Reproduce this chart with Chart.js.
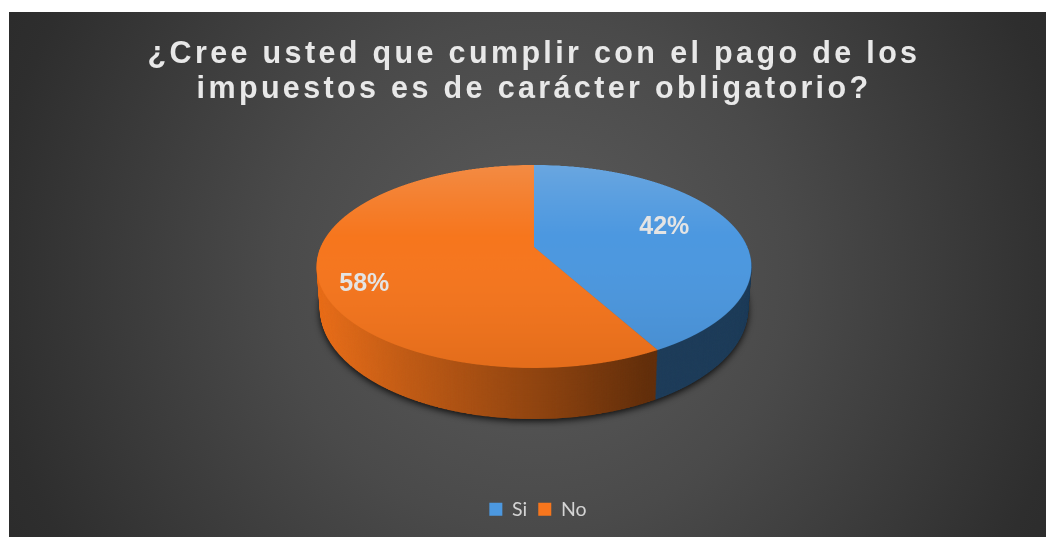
<!DOCTYPE html>
<html>
<head>
<meta charset="utf-8">
<script src="https://cdn.jsdelivr.net/npm/chart.js@4/dist/chart.umd.min.js"></script>
<style>
    html, body { margin: 0; padding: 0; background: #fff; overflow: hidden; }
    #frame { position: absolute; left: 9px; top: 12px; width: 1037px; height: 525px; overflow: hidden; }
    #pie { display: block; background: radial-gradient(circle 640px at 50% 50%, #5c5c5c 0%, #4a4a4a 40%, #2e2e2e 85%, #292929 100%); }
</style>
</head>
<body>
<div id="frame"><canvas id="pie" width="1050" height="525"></canvas></div>
<script>
const categories = ['Si', 'No'];
const shares = [42, 58];
const sliceColors = ['#4c98e0', '#f7761d'];
const titleLines = ['¿Cree usted que cumplir con el pago de los', 'impuestos es de carácter obligatorio?'];
// where the percent text sits along each slice, fraction of radius + small pixel shift
const labelRadius = [0.65, 0.79];
const labelShiftX = [0, 0];
const labelShiftY = [-5, 17];

// tilted disc: a projective map of the flat pie (Excel style 3D look)
const APEX_X = 525, APEX_Y = 235;
const PERSP = -0.192, SCALE_X = 213.4, SCALE_Y = 97.75;
const TOP_Y = 153, BOTTOM_Y = 356;
const RIM_MID_Y = 254;
const SS = 2;       // supersampling of the warped layers

function makeCanvas(w, h) {
    const c = document.createElement('canvas');
    c.width = w;
    c.height = h;
    return c;
}

function project(u, v) {
    const d = 1 + PERSP * v;
    return { x: APEX_X + SCALE_X * u / d, y: APEX_Y + SCALE_Y * v / d };
}

// copy the flat disc row by row into the tilted position
function warp(flat, w, h) {
    const out = makeCanvas(w * SS, h * SS);
    const o = out.getContext('2d');
    const R = flat.width / 2;
    for (let row = TOP_Y * SS; row <= BOTTOM_Y * SS; row++) {
        const vAt = (y) => {
            const t = (y - APEX_Y) / SCALE_Y;
            return t / (1 - PERSP * t);
        };
        const v0 = vAt(row / SS), v1 = vAt((row + 1) / SS);
        const half = SCALE_X / (1 + PERSP * (v0 + v1) / 2) * SS;
        o.drawImage(flat, 0, R + v0 * R, flat.width, Math.max((v1 - v0) * R, 0.5),
            APEX_X * SS - half, row, half * 2, 1);
    }
    return out;
}

const tiltedPie = {
    id: 'tiltedPie',
    afterLayout(chart) {
        // legend sits a little right of centre in the original
        chart.legend.left += 4;
        chart.legend.right += 4;
    },
    beforeDraw(chart) {
        // only the title is letter spaced
        const block = chart.titleBlock;
        if (!block._spaced) {
            const draw = block.draw;
            block.draw = function () {
                chart.ctx.save();
                chart.ctx.letterSpacing = '3.35px';
                draw.call(this);
                chart.ctx.restore();
            };
            block._spaced = true;
        }
    },
    beforeDatasetsDraw(chart) {
        const arcs = chart.getDatasetMeta(0).data;
        const R = arcs[0].outerRadius;
        const S = 1000 / (2 * R);
        const w = chart.width, h = chart.height;

        const flat = makeCanvas(1000, 1000);
        const f = flat.getContext('2d');
        f.setTransform(S, 0, 0, S, -(arcs[0].x - R) * S, -(arcs[0].y - R) * S);
        arcs.forEach(a => a.draw(f));
        f.setTransform(1, 0, 0, 1, 0, 0);

        // side wall
        const wall = warp(flat, w, h);
        const wc = wall.getContext('2d');
        const shade = wc.createLinearGradient(308 * SS, 0, 750 * SS, 0);
        shade.addColorStop(0, 'rgba(0,0,0,0.06)');
        shade.addColorStop(0.2, 'rgba(0,0,0,0.22)');
        shade.addColorStop(0.5, 'rgba(0,0,0,0.42)');
        shade.addColorStop(0.75, 'rgba(0,0,0,0.6)');
        shade.addColorStop(1, 'rgba(0,0,0,0.6)');
        wc.globalCompositeOperation = 'source-atop';
        wc.fillStyle = shade;
        wc.fillRect(0, 0, wall.width, wall.height);

        // top face, lighter to the back
        const light = f.createLinearGradient(0, 0, 0, 1000);
        light.addColorStop(0, 'rgba(225,225,225,0.2)');
        light.addColorStop(0.45, 'rgba(225,225,225,0)');
        light.addColorStop(1, 'rgba(0,0,0,0.08)');
        f.globalCompositeOperation = 'source-atop';
        f.fillStyle = light;
        f.fillRect(0, 0, 1000, 1000);
        const top = warp(flat, w, h);

        const ctx = chart.ctx;
        ctx.save();
        const steps = 60;
        for (let i = steps; i >= 1; i--) {
            const t = i / steps;
            const sx = 1 - 0.015 * t, sy = 1 + 0.09 * t;
            const dw = w * sx, dh = h * sy;
            const dx = APEX_X - APEX_X * sx;
            const dy = RIM_MID_Y + 42 * t - RIM_MID_Y * sy;
            if (i === steps) {
                ctx.shadowColor = 'rgba(0,0,0,0.85)';
                ctx.shadowBlur = 7;
                ctx.shadowOffsetY = 2;
            } else {
                ctx.shadowColor = 'transparent';
            }
            ctx.drawImage(wall, dx, dy, dw, dh);
        }
        ctx.drawImage(top, 0, 0, w, h);
        ctx.restore();

        // percent labels
        const total = shares.reduce((a, b) => a + b, 0);
        ctx.save();
        ctx.font = 'bold 25px "Liberation Sans"';
        ctx.fillStyle = '#e4e4e4';
        ctx.textAlign = 'center';
        ctx.textBaseline = 'middle';
        arcs.forEach((a, i) => {
            const mid = (a.startAngle + a.endAngle) / 2;
            const p = project(Math.cos(mid) * labelRadius[i], Math.sin(mid) * labelRadius[i]);
            ctx.fillText(Math.round(shares[i] / total * 100) + '%', p.x + labelShiftX[i], p.y + labelShiftY[i]);
        });
        ctx.restore();
        return false;
    }
};

new Chart(document.getElementById('pie'), {
    type: 'pie',
    data: {
        labels: categories,
        datasets: [{
            data: shares,
            backgroundColor: sliceColors,
            borderWidth: 0
        }]
    },
    plugins: [tiltedPie],
    options: {
        responsive: false,
        animation: false,
        events: [],
        layout: { padding: { bottom: 8 } },
        plugins: {
            title: {
                display: true,
                text: titleLines,
                color: '#e8e8e8',
                font: { family: '"Liberation Sans"', size: 30.5, weight: 'bold', lineHeight: 1.15 },
                padding: { top: 25, bottom: 7 }
            },
            legend: {
                position: 'bottom',
                labels: {
                    color: '#d4d4d4',
                    font: { family: 'Lato', size: 19.5 },
                    boxWidth: 13,
                    boxHeight: 13,
                    padding: 11
                }
            },
            tooltip: { enabled: false }
        }
    }
});
</script>
</body>
</html>
